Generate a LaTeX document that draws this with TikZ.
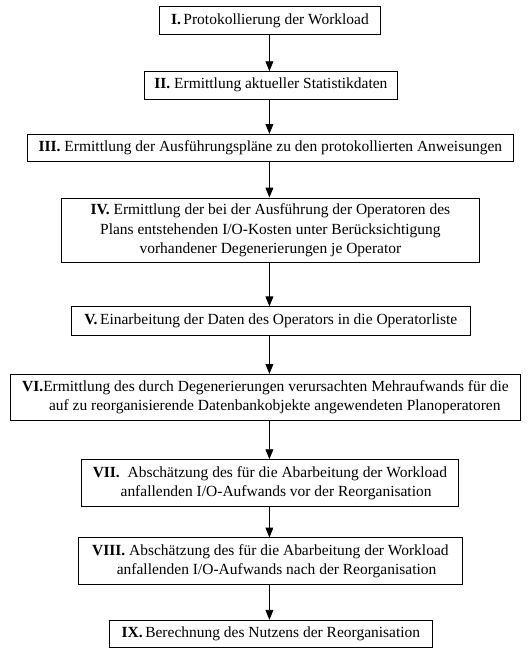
\documentclass[tikz,border=0pt]{standalone}
\usepackage{fontspec}
\setmainfont{Liberation Serif}
\usetikzlibrary{arrows.meta}
\begin{document}
\begin{tikzpicture}[x=1pt,y=1pt,
  stepbox/.style={draw=black, line width=0.8pt, inner sep=0pt, align=center,
    font=\fontsize{15.8}{19.8}\selectfont},
  arr/.style={draw=black, line width=0.8pt, -{Triangle[length=10pt,width=8pt]}}]
\useasboundingbox (0,0) rectangle (542,-674.7);
\coordinate (axis) at (275,0);
\node[stepbox, minimum width=225, minimum height=28] (n1) at (275.5,-21) {\textbf{I.}\,Protokollierung der Workload};
\node[stepbox, minimum width=259, minimum height=28] (n2) at (276.5,-87) {\textbf{II.} Ermittlung aktueller Statistikdaten};
\node[stepbox, minimum width=497, minimum height=28] (n3) at (276,-151) {\textbf{III.} Ermittlung der Ausführungspläne zu den protokollierten Anweisungen};
\node[stepbox, minimum width=426, minimum height=66] (n4) at (276,-235) {\textbf{IV.} Ermittlung der bei der Ausführung der Operatoren des\\Plans entstehenden I/O-Kosten unter Berücksichtigung\\vorhandener Degenerierungen je Operator};
\node[stepbox, minimum width=407, minimum height=29] (n5) at (276.5,-327.5) {\textbf{V.}\,Einarbeitung der Daten des Operators in die Operatorliste};
\node[stepbox, minimum width=520, minimum height=47] (n6) at (271,-405.5) {\textbf{VI.}Ermittlung des durch Degenerierungen verursachten Mehraufwands für die\\\hspace*{1.2em}auf zu reorganisierende Datenbankobjekte angewendeten Planoperatoren};
\node[stepbox, minimum width=385, minimum height=48] (n7) at (275.5,-493) {\textbf{VII.}\ \ Abschätzung des für die Abarbeitung der Workload\\\hspace*{0.8em}anfallenden I/O-Aufwands vor der Reorganisation};
\node[stepbox, minimum width=392, minimum height=48] (n8) at (276,-573) {\textbf{VIII.} Abschätzung des für die Abarbeitung der Workload\\\hspace*{0.8em}anfallenden I/O-Aufwands nach der Reorganisation};
\node[stepbox, minimum width=329, minimum height=28] (n9) at (276.5,-647) {\textbf{IX.}\,Berechnung des Nutzens der Reorganisation};
\foreach \a/\b in {n1/n2,n2/n3,n3/n4,n4/n5,n5/n6,n6/n7,n7/n8,n8/n9}
  \draw[arr] (\a.south -| axis) -- (\b.north -| axis);
\end{tikzpicture}
\end{document}
